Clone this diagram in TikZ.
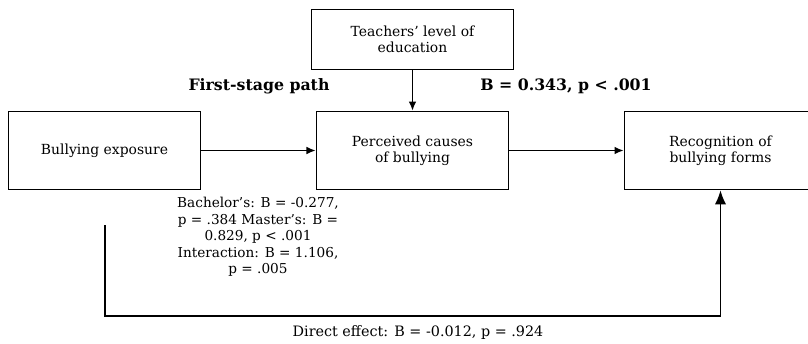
\documentclass[tikz,border=0pt]{standalone}
\usepackage{fontspec}
\setmainfont{DejaVu Serif}
\usepackage{tikz}
\usetikzlibrary{arrows.meta}

\tikzset{
  varbox/.style={draw, line width=1.2pt, align=center, minimum width=4.8cm, minimum height=1.95cm, font=\fontsize{9.9}{11.4}\selectfont},
  pathnote/.style={align=center, font=\fontsize{9.7}{11.8}\selectfont},
  boldnote/.style={font=\fontsize{11.2}{13}\selectfont\bfseries},
  conn/.style={line width=1pt, -{Latex[length=6.5pt,width=5.5pt]}},
}

\begin{document}
\begin{tikzpicture}[x=0.025cm,y=-0.025cm]
			\useasboundingbox (0,0) rectangle (808,343);
			
			\node[varbox, minimum width=5.05cm, minimum height=1.5cm] (education) at (412.5,39.5) {Teachers’ level of\\education};
			\node[varbox] (exposure) at (104.5,150.5) {Bullying exposure};
			\node[varbox] (causes) at (412.5,150.5) {Perceived causes\\of bullying};
			\node[varbox] (recognition) at (720.5,150.5) {Recognition of\\bullying forms};
			
			\node[boldnote] (firststage) at (259,86) {First-stage path};
			\node[boldnote] (moderation) at (566,86) {B = 0.343, p < .001};
			\node[pathnote] (levels) at (258,237) {Bachelor’s: B = -0.277,\\p = .384 Master’s: B =\\0.829, p < .001\\Interaction: B = 1.106,\\p = .005};
			\node[pathnote, font=\fontsize{10.2}{12}\selectfont] (direct) at (418,333) {Direct effect: B = -0.012, p = .924};
			
			\coordinate (directstart) at (105,225);
			
			\draw [conn] (education) -- (causes);
			\draw [conn] (exposure) -- (causes);
			\draw [conn] (causes) -- (recognition);
			\draw [line width=1pt, -{Latex[length=10pt,width=8pt]}] (directstart) |- (720.5,316) -- (recognition.south);
		\end{tikzpicture}
\end{document}
